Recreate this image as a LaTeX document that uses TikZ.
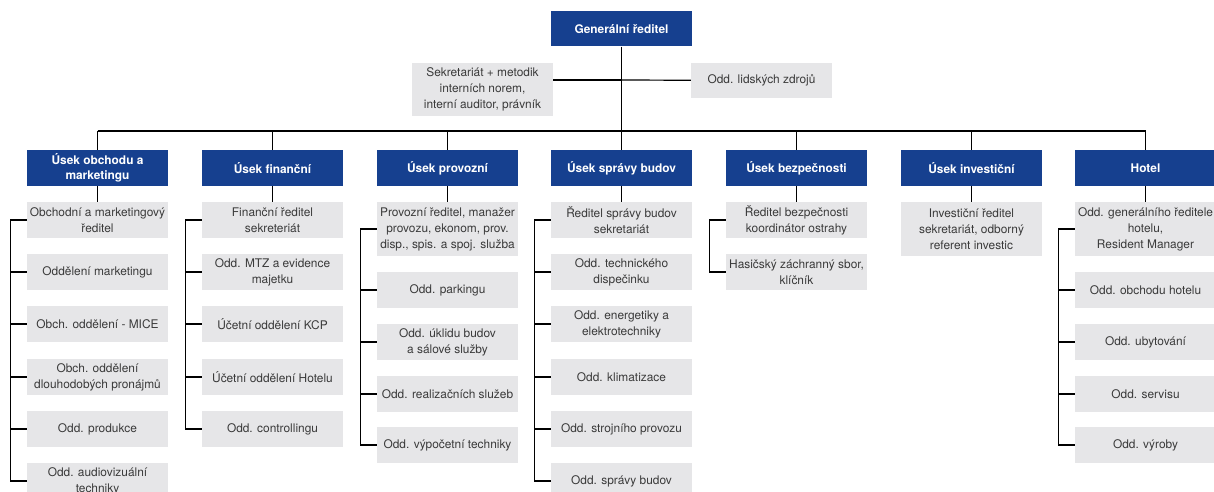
\documentclass[tikz,border=0pt]{standalone}
\usepackage{fontspec}
\setmainfont{TeX Gyre Heros}
\usepackage{tikz}

\definecolor{headblue}{HTML}{16408F}
\definecolor{boxgray}{HTML}{E6E6E8}
\definecolor{textgray}{HTML}{3A3A3A}

\tikzset{
  head/.style = {fill=headblue, text=white, minimum width=141pt, minimum height=36pt,
                 inner sep=0pt, align=center, font=\fontsize{11.9}{15}\selectfont\bfseries},
  unit/.style = {fill=boxgray, text=textgray, minimum width=141pt, minimum height=36pt,
                 inner sep=0pt, align=center, font=\fontsize{11.9}{16}\selectfont},
  tall/.style = {minimum height=54pt},
  link/.style = {line width=1.2pt}
}

\begin{document}
\begin{tikzpicture}[x=1pt, y=-1pt]
        \useasboundingbox (0,0) rectangle (1214,492);

        % top
        \node [head, minimum height=35pt] (gr)  at (621.5,29)   {Generální ředitel};
        \node [unit, minimum height=53pt] (sek) at (482.5,89.5) {Sekretariát + metodik\\interních norem,\\interní auditor, právník};
        \node [unit, minimum height=35pt] (lz)  at (761.5,80.5) {Odd. lidských zdrojů};
        \coordinate (staff) at (621.5,80);
        \coordinate (bus)   at (621.5,131);

        % divisions
        \node [head] (u1) at (97.5,168)   {Úsek obchodu a\\marketingu};
        \node [head] (u2) at (272.5,168)  {Úsek finanční};
        \node [head] (u3) at (447.5,168)  {Úsek provozní};
        \node [head] (u4) at (621.5,168)  {Úsek správy budov};
        \node [head] (u5) at (796.5,168)  {Úsek bezpečnosti};
        \node [head] (u6) at (971.5,168)  {Úsek investiční};
        \node [head] (u7) at (1145.5,168) {Hotel};

        % departments
        \node [unit] (o1a) at (97.5,220) {Obchodní a marketingový\\ředitel};
        \node [unit] (o1b) at (97.5,272) {Oddělení marketingu};
        \node [unit] (o1c) at (97.5,324) {Obch. oddělení - MICE};
        \node [unit] (o1d) at (97.5,377) {Obch. oddělení\\dlouhodobých pronájmů};
        \node [unit] (o1e) at (97.5,429) {Odd. produkce};
        \node [unit] (o1f) at (97.5,481) {Odd. audiovizuální\\techniky};

        \node [unit] (o2a) at (272.5,220) {Finanční ředitel\\sekreteriát};
        \node [unit] (o2b) at (272.5,272) {Odd. MTZ a evidence\\majetku};
        \node [unit] (o2c) at (272.5,324) {Účetní oddělení KCP};
        \node [unit] (o2d) at (272.5,377) {Účetní oddělení Hotelu};
        \node [unit] (o2e) at (272.5,429) {Odd. controllingu};

        \node [unit, tall] (o3a) at (447.5,229) {Provozní ředitel, manažer\\provozu, ekonom, prov.\\disp., spis. a spoj. služba};
        \node [unit] (o3b) at (447.5,290) {Odd. parkingu};
        \node [unit] (o3c) at (447.5,342) {Odd. úklidu budov\\a sálové služby};
        \node [unit] (o3d) at (447.5,394) {Odd. realizačních služeb};
        \node [unit] (o3e) at (447.5,445) {Odd. výpočetní techniky};

        \node [unit] (o4a) at (621.5,220) {Ředitel správy budov\\sekretariát};
        \node [unit] (o4b) at (621.5,272) {Odd. technického\\dispečinku};
        \node [unit] (o4c) at (621.5,324) {Odd. energetiky a\\elektrotechniky};
        \node [unit] (o4d) at (621.5,377) {Odd. klimatizace};
        \node [unit] (o4e) at (621.5,429) {Odd. strojního provozu};
        \node [unit] (o4f) at (621.5,481) {Odd. správy budov};

        \node [unit] (o5a) at (796.5,220) {Ředitel bezpečnosti\\koordinátor ostrahy};
        \node [unit] (o5b) at (796.5,272) {Hasičský záchranný sbor,\\klíčník};

        \node [unit, tall] (o6a) at (971.5,229) {Investiční ředitel\\sekretariát, odborný\\referent investic};

        \node [unit, tall] (o7a) at (1145.5,229) {Odd. generálního ředitele\\hotelu,\\Resident Manager};
        \node [unit] (o7b) at (1145.5,290) {Odd. obchodu hotelu};
        \node [unit] (o7c) at (1145.5,342) {Odd. ubytování};
        \node [unit] (o7d) at (1145.5,394) {Odd. servisu};
        \node [unit] (o7e) at (1145.5,445) {Odd. výroby};

        % connectors
        \draw [link]  (gr) -- (bus);
        \draw [link]  (staff) -- (sek.east |- staff);
        \draw [link]  (staff) -- (lz);
        \draw [link]  (u1.north |- bus) -- (u7.north |- bus);
        \foreach \i in {1,...,7}
          \draw [link]  (u\i.north |- bus) -- (u\i.north);
        \foreach \i in {1,...,7}
          \draw [link]  (u\i.south) -- (o\i a.north);

        \draw [link]  (o1a.west) -- ++(-16,0) |- (o1f.west);
        \foreach \n in {b,c,d,e}
          \draw [link]  (o1\n.west) -- ++(-16,0);
        \draw [link]  (o2a.west) -- ++(-16,0) |- (o2e.west);
        \foreach \n in {b,c,d}
          \draw [link]  (o2\n.west) -- ++(-16,0);
        \draw [link]  (o3a.west) -- ++(-16,0) |- (o3e.west);
        \foreach \n in {b,c,d}
          \draw [link]  (o3\n.west) -- ++(-16,0);
        \draw [link]  (o4a.west) -- ++(-16,0) |- (o4f.west);
        \foreach \n in {b,c,d,e}
          \draw [link]  (o4\n.west) -- ++(-16,0);
        \draw [link]  (o5a.west) -- ++(-16,0) |- (o5b.west);
        \draw [link]  (o7a.west) -- ++(-16,0) |- (o7e.west);
        \foreach \n in {b,c,d}
          \draw [link]  (o7\n.west) -- ++(-16,0);
\end{tikzpicture}
\end{document}
